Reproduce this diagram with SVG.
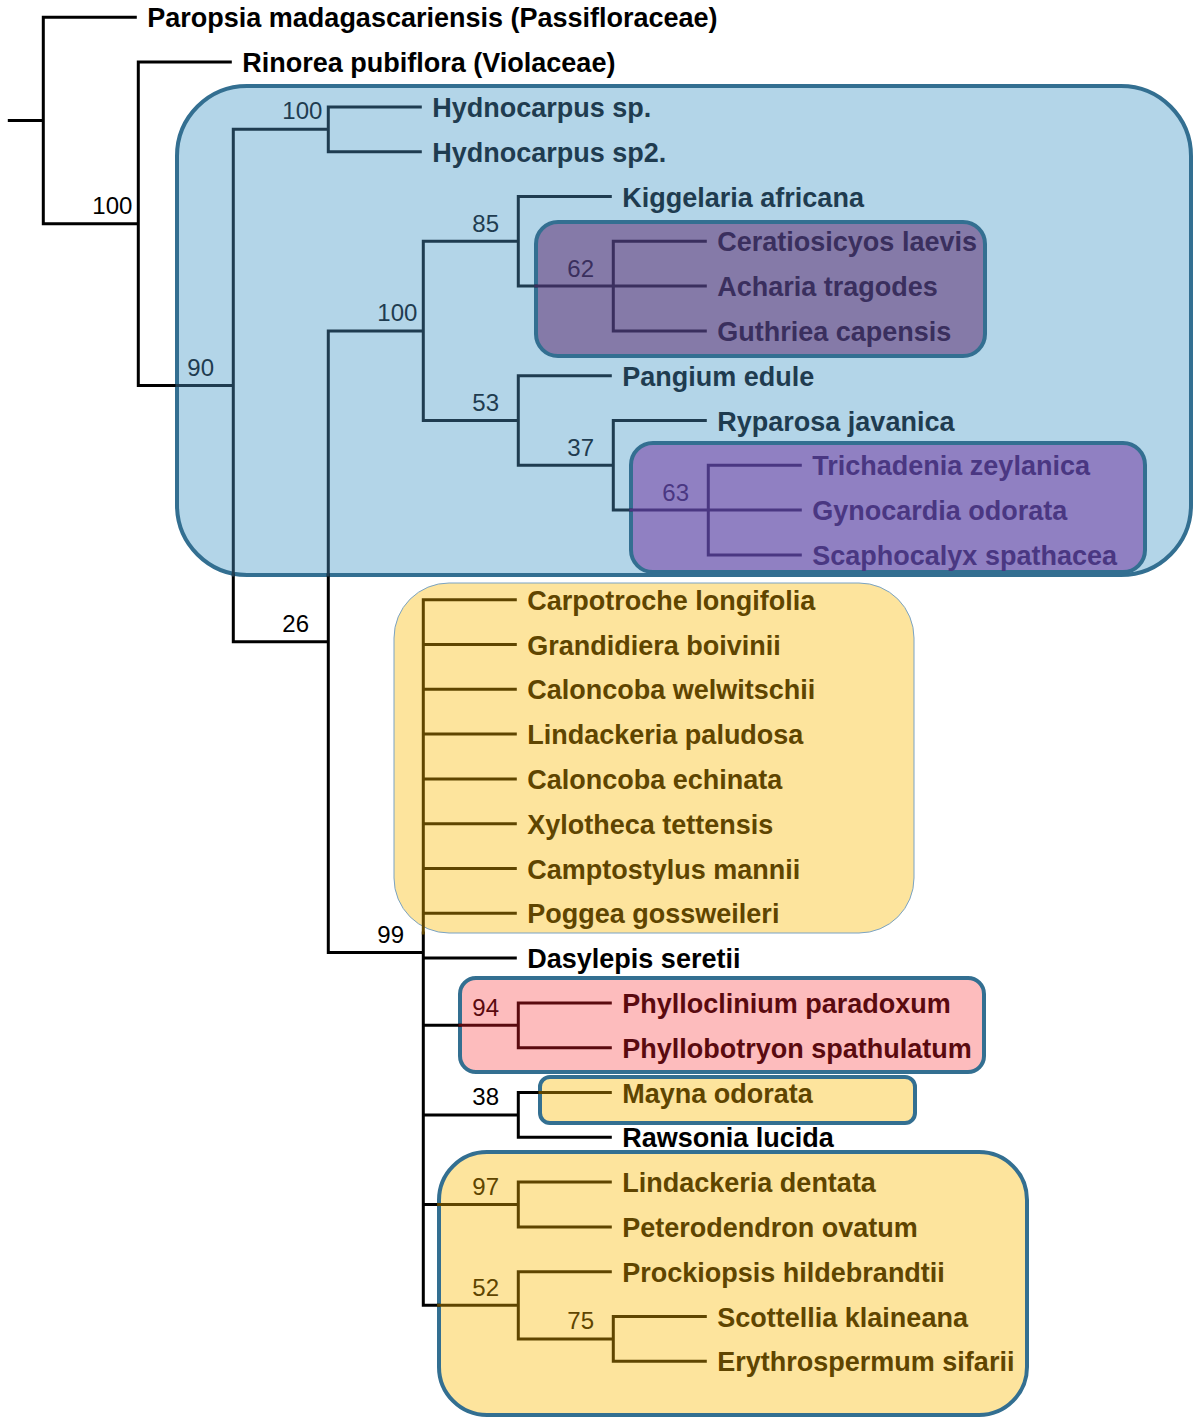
<svg xmlns="http://www.w3.org/2000/svg" width="1195" height="1418" viewBox="0 0 1195 1418">
<style>
.t{font-family:"Liberation Sans",Arial,sans-serif;font-weight:bold;font-size:27px}
.n{font-family:"Liberation Sans",Arial,sans-serif;font-size:24px}
#connectors path{fill:none;stroke-width:3;stroke-linecap:square}
.k{stroke:#000}.b{stroke:#1f3c50}.p1{stroke:#3a2f5e}.p2{stroke:#4a3782}.y{stroke:#5f4500}.r{stroke:#5a0a0f}
.fk{fill:#000}.fb{fill:#1f3c50}.fp1{fill:#3a2f5e}.fp2{fill:#4a3782}.fy{fill:#5f4500}.fr{fill:#5a0a0f}
.box{stroke:#336f91;stroke-width:4}
</style>
<rect width="1195" height="1418" fill="#fff"/>
<g id="clade-boxes">
<g id="box-blue"><rect class="box" x="177" y="86" width="1014" height="489" rx="70" fill="#b3d5e8"/></g>
<g id="box-purple1"><rect class="box" x="536" y="222" width="449" height="134" rx="22" fill="#857aa8"/></g>
<g id="box-purple2"><rect class="box" x="631" y="443" width="514" height="129" rx="22" fill="#9080c2"/></g>
<g id="box-yellow1"><rect x="394" y="583" width="520" height="350" rx="55" fill="#fde49d" stroke="#7aa3c4" stroke-width="1"/></g>
<g id="box-red"><rect class="box" x="460" y="978" width="524" height="94" rx="16" fill="#fdbcbd"/></g>
<g id="box-mayna"><rect class="box" x="540" y="1077" width="375" height="46" rx="10" fill="#fde49d"/></g>
<g id="box-yellow2"><rect class="box" x="439" y="1152" width="588" height="263" rx="48" fill="#fde49d"/></g>
</g>
<g id="connectors">
<path class="k" d="M9.3,120.55H43.3M43.3,17.3V223.8M43.3,17.3H135.3M43.3,223.8H138.3M138.3,62.1V385.5M138.3,62.1H230.3M138.3,385.5H177M233.3,575V641.7M233.3,641.7H328.3M328.3,575V952.5M328.3,952.5H423.3M423.3,933V1305.3M423.3,958.1H515.3M423.3,1025.3H460M423.3,1114.9H518.3M518.3,1092.5V1137.3M518.3,1092.5H540M518.3,1137.3H610.3M423.3,1204.5H438.6M423.3,1305.3H438.6"/>
<path class="b" d="M177,385.5H233.3M233.3,129.3V575M233.3,129.3H328.3M328.3,106.9V151.7M328.3,106.9H420.3M328.3,151.7H420.3M328.3,330.9V575M328.3,330.9H423.3M423.3,241.3V420.5M423.3,241.3H518.3M518.3,196.5V286.1M518.3,196.5H610.3M518.3,286.1H536M423.3,420.5H518.3M518.3,375.7V465.3M518.3,375.7H610.3M518.3,465.3H613.3M613.3,420.5V510.1M613.3,420.5H705.3M613.3,510.1H631"/>
<path class="p1" d="M536,286.1H613.3M613.3,241.3V330.9M613.3,241.3H705.3M613.3,286.1H705.3M613.3,330.9H705.3"/>
<path class="p2" d="M631,510.1H708.3M708.3,465.3V554.9M708.3,465.3H800.3M708.3,510.1H800.3M708.3,554.9H800.3"/>
<path class="y" d="M423.3,599.7V933M423.3,599.7H515.3M423.3,644.5H515.3M423.3,689.3H515.3M423.3,734.1H515.3M423.3,778.9H515.3M423.3,823.7H515.3M423.3,868.5H515.3M423.3,913.3H515.3M540,1092.5H610.3M438.6,1204.5H518.3M518.3,1182.1V1226.9M518.3,1182.1H610.3M518.3,1226.9H610.3M438.6,1305.3H518.3M518.3,1271.7V1338.9M518.3,1271.7H610.3M518.3,1338.9H613.3M613.3,1316.5V1361.3M613.3,1316.5H705.3M613.3,1361.3H705.3"/>
<path class="r" d="M460,1025.3H518.3M518.3,1002.9V1047.7M518.3,1002.9H610.3M518.3,1047.7H610.3"/>
</g>
<g id="support-values">
<g id="node-n100a"><text class="n fk" x="92.3" y="214.3">100</text></g>
<g id="node-n90"><text class="n fb" x="187.3" y="376">90</text></g>
<g id="node-n100b"><text class="n fb" x="282.3" y="119.3">100</text></g>
<g id="node-n26"><text class="n fk" x="282.3" y="632.2">26</text></g>
<g id="node-n100c"><text class="n fb" x="377.3" y="321.4">100</text></g>
<g id="node-n99"><text class="n fk" x="377.3" y="943">99</text></g>
<g id="node-n85"><text class="n fb" x="472.3" y="231.8">85</text></g>
<g id="node-n53"><text class="n fb" x="472.3" y="411">53</text></g>
<g id="node-n62"><text class="n fp1" x="567.3" y="276.6">62</text></g>
<g id="node-n37"><text class="n fb" x="567.3" y="455.8">37</text></g>
<g id="node-n63"><text class="n fp2" x="662.3" y="500.6">63</text></g>
<g id="node-n94"><text class="n fr" x="472.3" y="1015.8">94</text></g>
<g id="node-n38"><text class="n fk" x="472.3" y="1105.4">38</text></g>
<g id="node-n97"><text class="n fy" x="472.3" y="1195">97</text></g>
<g id="node-n52"><text class="n fy" x="472.3" y="1295.8">52</text></g>
<g id="node-n75"><text class="n fy" x="567.3" y="1329.4">75</text></g>
</g>
<g id="taxa">
<g id="taxon-paropsia"><text class="t fk" x="147.3" y="27.3">Paropsia madagascariensis (Passifloraceae)</text></g>
<g id="taxon-rinorea"><text class="t fk" x="242.3" y="72.1">Rinorea pubiflora (Violaceae)</text></g>
<g id="taxon-hydnocarpus1"><text class="t fb" x="432.3" y="116.9">Hydnocarpus sp.</text></g>
<g id="taxon-hydnocarpus2"><text class="t fb" x="432.3" y="161.7">Hydnocarpus sp2.</text></g>
<g id="taxon-kiggelaria"><text class="t fb" x="622.3" y="206.5">Kiggelaria africana</text></g>
<g id="taxon-ceratiosicyos"><text class="t fp1" x="717.3" y="251.3">Ceratiosicyos laevis</text></g>
<g id="taxon-acharia"><text class="t fp1" x="717.3" y="296.1">Acharia tragodes</text></g>
<g id="taxon-guthriea"><text class="t fp1" x="717.3" y="340.9">Guthriea capensis</text></g>
<g id="taxon-pangium"><text class="t fb" x="622.3" y="385.7">Pangium edule</text></g>
<g id="taxon-ryparosa"><text class="t fb" x="717.3" y="430.5">Ryparosa javanica</text></g>
<g id="taxon-trichadenia"><text class="t fp2" x="812.3" y="475.3">Trichadenia zeylanica</text></g>
<g id="taxon-gynocardia"><text class="t fp2" x="812.3" y="520.1">Gynocardia odorata</text></g>
<g id="taxon-scaphocalyx"><text class="t fp2" x="812.3" y="564.9">Scaphocalyx spathacea</text></g>
<g id="taxon-carpotroche"><text class="t fy" x="527.3" y="609.7">Carpotroche longifolia</text></g>
<g id="taxon-grandidiera"><text class="t fy" x="527.3" y="654.5">Grandidiera boivinii</text></g>
<g id="taxon-caloncoba-w"><text class="t fy" x="527.3" y="699.3">Caloncoba welwitschii</text></g>
<g id="taxon-lindackeria-p"><text class="t fy" x="527.3" y="744.1">Lindackeria paludosa</text></g>
<g id="taxon-caloncoba-e"><text class="t fy" x="527.3" y="788.9">Caloncoba echinata</text></g>
<g id="taxon-xylotheca"><text class="t fy" x="527.3" y="833.7">Xylotheca tettensis</text></g>
<g id="taxon-camptostylus"><text class="t fy" x="527.3" y="878.5">Camptostylus mannii</text></g>
<g id="taxon-poggea"><text class="t fy" x="527.3" y="923.3">Poggea gossweileri</text></g>
<g id="taxon-dasylepis"><text class="t fk" x="527.3" y="968.1">Dasylepis seretii</text></g>
<g id="taxon-phylloclinium"><text class="t fr" x="622.3" y="1012.9">Phylloclinium paradoxum</text></g>
<g id="taxon-phyllobotryon"><text class="t fr" x="622.3" y="1057.7">Phyllobotryon spathulatum</text></g>
<g id="taxon-mayna"><text class="t fy" x="622.3" y="1102.5">Mayna odorata</text></g>
<g id="taxon-rawsonia"><text class="t fk" x="622.3" y="1147.3">Rawsonia lucida</text></g>
<g id="taxon-lindackeria-d"><text class="t fy" x="622.3" y="1192.1">Lindackeria dentata</text></g>
<g id="taxon-peterodendron"><text class="t fy" x="622.3" y="1236.9">Peterodendron ovatum</text></g>
<g id="taxon-prockiopsis"><text class="t fy" x="622.3" y="1281.7">Prockiopsis hildebrandtii</text></g>
<g id="taxon-scottellia"><text class="t fy" x="717.3" y="1326.5">Scottellia klaineana</text></g>
<g id="taxon-erythrospermum"><text class="t fy" x="717.3" y="1371.3">Erythrospermum sifarii</text></g>
</g>
</svg>
